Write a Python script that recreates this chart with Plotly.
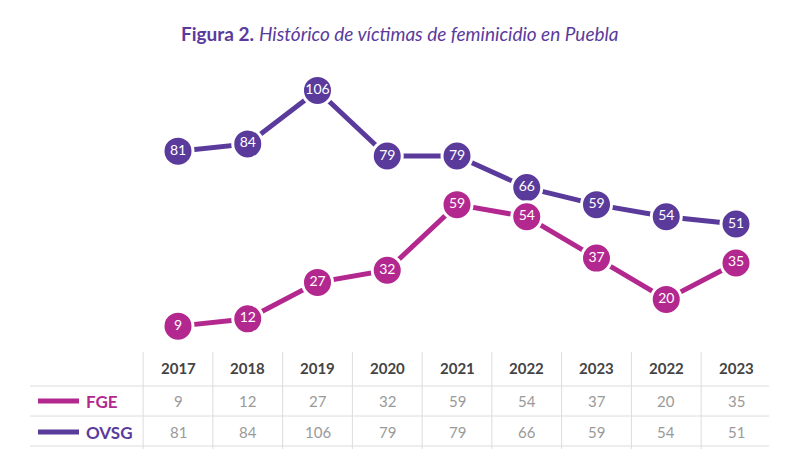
import plotly.graph_objects as go

years = ["2017", "2018", "2019", "2020", "2021", "2022", "2023", "2022", "2023"]
fge = [9, 12, 27, 32, 59, 54, 37, 20, 35]
ovsg = [81, 84, 106, 79, 79, 66, 59, 54, 51]
series_names = ["FGE", "OVSG"]

PURPLE = "#5A3B9C"
MAGENTA = "#B3288F"
FONT = "Lato"

W, H = 800, 475
x_per_px = 1 / 69.75
x0_px = 178
y_per_px = 1 / 2.43
y0_px = 348

def px_to_x(p):
    return (p - x0_px) * x_per_px

def py_to_y(p):
    return (y0_px - p) * y_per_px

xs = list(range(len(years)))
fig = go.Figure()

for name, vals, col in [("OVSG", ovsg, PURPLE), ("FGE", fge, MAGENTA)]:
    fig.add_trace(go.Scatter(
        x=xs, y=vals, mode="lines+markers+text", name=name,
        line=dict(color=col, width=5),
        marker=dict(size=30, color=col, line=dict(color="white", width=3)),
        text=[str(v) for v in vals], textposition="middle center",
        textfont=dict(color="white", size=14, family=FONT),
        hoverinfo="skip", showlegend=False, cliponaxis=False,
    ))

shapes = []
grid = "#dcdcdc"
for py in [386, 416, 446]:
    shapes.append(dict(type="line", x0=px_to_x(30), x1=px_to_x(769), y0=py_to_y(py), y1=py_to_y(py),
                       line=dict(color=grid, width=1)))
for i in range(len(years)):
    xv = i - 0.5
    shapes.append(dict(type="line", x0=xv, x1=xv, y0=py_to_y(352), y1=py_to_y(449),
                       line=dict(color=grid, width=1)))
for py, col in [(401, MAGENTA), (432, PURPLE)]:
    shapes.append(dict(type="line", x0=px_to_x(38), x1=px_to_x(79), y0=py_to_y(py), y1=py_to_y(py),
                       line=dict(color=col, width=5)))

ann = []
ann.append(dict(x=px_to_x(400), y=py_to_y(33), xref="x", yref="y", showarrow=False,
                text="<b>Figura 2.</b> <i>Histórico de víctimas de feminicidio en Puebla</i>",
                font=dict(family=FONT, size=19, color=PURPLE)))
for i, yr in enumerate(years):
    ann.append(dict(x=i, y=py_to_y(368), showarrow=False, text=f"<b>{yr}</b>",
                    font=dict(family=FONT, size=15, color="#444444")))
    ann.append(dict(x=i, y=py_to_y(401), showarrow=False, text=str(fge[i]),
                    font=dict(family=FONT, size=15, color="#9a9a9a")))
    ann.append(dict(x=i, y=py_to_y(432), showarrow=False, text=str(ovsg[i]),
                    font=dict(family=FONT, size=15, color="#9a9a9a")))
for py, col, name in [(401, MAGENTA, series_names[0]), (432, PURPLE, series_names[1])]:
    ann.append(dict(x=px_to_x(84), y=py_to_y(py), showarrow=False, xanchor="left",
                    text=f"<b>{name}</b>", font=dict(family=FONT, size=17, color=col)))

fig.update_layout(
    width=W, height=H, margin=dict(l=0, r=0, t=0, b=0),
    paper_bgcolor="white", plot_bgcolor="white",
    xaxis=dict(range=[px_to_x(0), px_to_x(W)], visible=False, fixedrange=True),
    yaxis=dict(range=[py_to_y(H), py_to_y(0)], visible=False, fixedrange=True),
    shapes=shapes, annotations=ann, showlegend=False,
)

fig.write_html("out.html")
